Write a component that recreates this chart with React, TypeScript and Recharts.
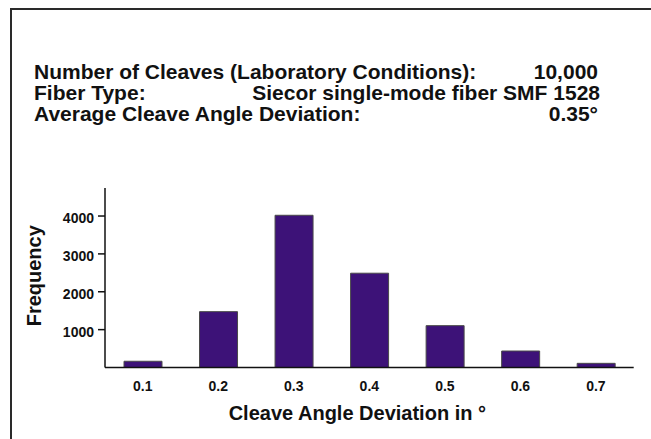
import React from "react";
import { BarChart, Bar, XAxis, YAxis, Label } from "recharts";

const categories = ["0.1", "0.2", "0.3", "0.4", "0.5", "0.6", "0.7"];
const frequencies = [165, 1475, 4020, 2490, 1105, 435, 110];
const yTicks = [1000, 2000, 3000, 4000];

const infoLeft = [
  "Number of Cleaves (Laboratory Conditions):",
  "Fiber Type:",
  "Average Cleave Angle Deviation:",
];
const infoRight = ["10,000", "Siecor single-mode fiber SMF 1528", "0.35°"];

const data = categories.map((c, i) => ({ name: c, value: frequencies[i] }));

const FONT = "'Liberation Sans', Arial, Helvetica, sans-serif";

const FreqLabel = (props: any) => {
  const vb = props.viewBox;
  const x = vb.x + 31;
  const y = vb.y + vb.height / 2 - 2;
  return (
    <text x={x} y={y} transform={`rotate(-90 ${x} ${y})`} textAnchor="middle"
      fontFamily={FONT} fontWeight="bold" fontSize={20} fill="#111">
      Frequency
    </text>
  );
};

export default function App() {
  return (
    <div style={{ position: "fixed", left: 0, top: 0, width: 651, height: 439, overflow: "hidden", background: "#fff" }}>
      <div style={{ position: "absolute", left: 10, top: 8, width: 641, height: 431, boxSizing: "border-box", borderLeft: "2px solid #2a2a2a", borderTop: "2px solid #2a2a2a" }} />
      <svg width={651} height={140} style={{ position: "absolute", left: 0, top: 0 }}>
        {infoLeft.map((t, i) => (
          <text key={t} x={34} y={78.5 + i * 21.3} fontFamily={FONT} fontWeight="bold" fontSize={21} fill="#111">{t}</text>
        ))}
        {infoRight.map((t, i) => (
          <text key={t} x={i === 1 ? 600 : 598} y={78.5 + i * 21.3} textAnchor="end" fontFamily={FONT} fontWeight="bold" fontSize={21} fill="#111">{t}</text>
        ))}
      </svg>
      <div style={{ position: "absolute", left: 0, top: 0 }}>
        <BarChart width={651} height={439} data={data} barSize={38}
          margin={{ top: 188, right: 17.3, bottom: 15.5, left: 10 }}>
          <XAxis dataKey="name" height={56} tickLine={false} tickSize={0} tickMargin={14}
            axisLine={{ stroke: "#111", strokeWidth: 1.5 }}
            tick={{ fill: "#111", fontSize: 14, fontWeight: "bold", fontFamily: FONT }}>
            <Label value="Cleave Angle Deviation in °" position="insideBottom" offset={3.5} dx={-12}
              style={{ fill: "#111", fontSize: 20, fontWeight: "bold", fontFamily: FONT }} />
          </XAxis>
          <YAxis width={95} domain={[0, 4740]} ticks={yTicks} tickSize={7} tickMargin={4}
            axisLine={{ stroke: "#111", strokeWidth: 1.5 }} tickLine={{ stroke: "#111", strokeWidth: 1.5 }}
            tick={{ fill: "#111", fontSize: 14, fontWeight: "bold", fontFamily: FONT, dy: 2 }}>
            <Label content={FreqLabel} />
          </YAxis>
          <Bar dataKey="value" fill="#3d1278" stroke="#4a4a4a" strokeWidth={1} isAnimationActive={false} />
        </BarChart>
      </div>
    </div>
  );
}
